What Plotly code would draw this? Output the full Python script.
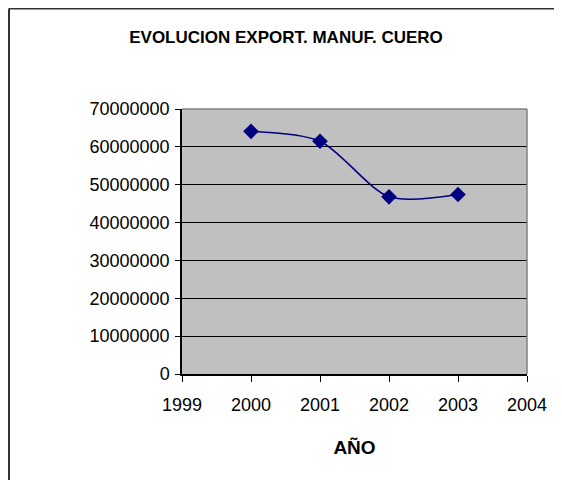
import plotly.graph_objects as go

years = [2000, 2001, 2002, 2003]
values = [64100000, 61500000, 46800000, 47400000]
y_ticks = [0, 10000000, 20000000, 30000000, 40000000, 50000000, 60000000, 70000000]
x_ticks = [1999, 2000, 2001, 2002, 2003, 2004]

# page has an 8px body margin, so the figure is drawn from (8, 8);
# keep the figure small enough that no scrollbar appears
OFF = 8
W, H = 562 - 2 * OFF, 488 - 2 * OFF
L, R, T, B = 182 - OFF, 527 - OFF, 109 - OFF, 374 - OFF

FONT = "Liberation Sans, Arial, sans-serif"

fig = go.Figure()
fig.add_trace(go.Scatter(
    x=years, y=values, mode="lines+markers",
    line=dict(color="#000080", width=1.6, shape="spline", smoothing=0.8),
    marker=dict(symbol="diamond", size=12, color="#000080"),
    showlegend=False,
    cliponaxis=False,
))

def px_x(p):
    return (p - L) / (R - L)

def px_y(p):
    return (B - p) / (B - T)

fig.update_layout(
    width=W, height=H,
    margin=dict(l=L, r=W - R, t=T, b=H - B, pad=0, autoexpand=False),
    paper_bgcolor="white",
    plot_bgcolor="#c0c0c0",
    font=dict(family=FONT, size=18, color="black"),
    title=dict(text="<b>EVOLUCION EXPORT. MANUF. CUERO</b>",
               x=px_x(286 - OFF), xanchor="center", xref="paper",
               y=1 - (37 - OFF) / H, yanchor="middle",
               font=dict(family=FONT, size=17, color="black")),
    xaxis=dict(range=[1999, 2004], tickvals=x_ticks, ticktext=[str(v) for v in x_ticks],
               showgrid=False, zeroline=False, showline=True, linecolor="black", linewidth=1.5,
               ticks="outside", ticklen=6, tickcolor="black", tickwidth=1,
               ticklabelstandoff=8, automargin=False,
               title=dict(text="<b>AÑO</b>", standoff=26, font=dict(family=FONT, size=19))),
    yaxis=dict(range=[0, 70000000], tickvals=y_ticks, ticktext=[str(v) for v in y_ticks],
               showgrid=True, gridcolor="black", gridwidth=1, zeroline=False,
               showline=True, linecolor="black", linewidth=1.5,
               ticks="outside", ticklen=5, tickcolor="black", tickwidth=1,
               ticklabelstandoff=2, automargin=False),
)

# gray plot-area border on top and right
fig.add_shape(type="line", xref="paper", yref="paper", x0=0, x1=1, y0=1, y1=1,
              line=dict(color="#808080", width=1.5), layer="above")
fig.add_shape(type="line", xref="paper", yref="paper", x0=1, x1=1, y0=0, y1=1,
              line=dict(color="#808080", width=1.5), layer="above")

# outer chart border (top and left visible)
fig.add_shape(type="line", xref="paper", yref="paper",
              x0=px_x(1), x1=px_x(W), y0=px_y(0.5), y1=px_y(0.5),
              line=dict(color="#333333", width=2))
fig.add_shape(type="line", xref="paper", yref="paper",
              x0=px_x(1), x1=px_x(1), y0=px_y(0.5), y1=px_y(H),
              line=dict(color="#333333", width=2))

fig.write_html("out.html", config={"displayModeBar": False})
